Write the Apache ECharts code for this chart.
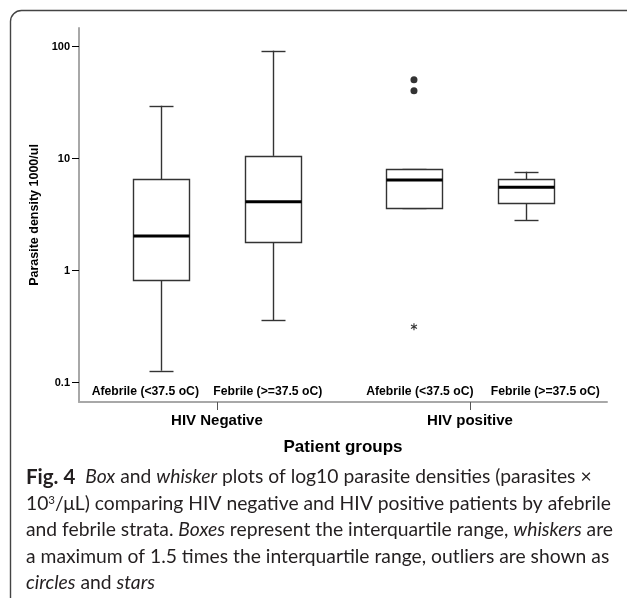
<!DOCTYPE html>
<html>
<head>
<meta charset="utf-8">
<title>Parasite density box plots</title>
<script src="https://cdn.jsdelivr.net/npm/echarts@6/dist/echarts.min.js"></script>
<style>
  html, body { margin: 0; padding: 0; background: #fff; }
  #chart { width: 627px; height: 598px; }
</style>
</head>
<body>
<div id="chart"></div>
<script>
// outer categories (patient groups) and inner categories (fever strata)
const groups = ["HIV Negative", "HIV positive"];
const strata = ["Afebrile (<37.5 oC)", "Febrile (>=37.5 oC)"];

// one entry per box: HIV-/afebrile, HIV-/febrile, HIV+/afebrile, HIV+/febrile
const boxGroup = [0, 0, 1, 1];
const boxStratum = [0, 1, 0, 1];
const whiskerLow = [0.128, 0.363, 3.63, 2.84];
const q1 = [0.814, 1.80, 3.63, 4.00];
const median = [2.04, 4.13, 6.45, 5.55];
const q3 = [6.55, 10.6, 8.04, 6.55];
const whiskerHigh = [29.7, 92.1, 8.04, 7.65];

// outliers, all in the HIV positive / afebrile box
const outlierGroup = 1;
const outlierStratum = 0;
const circleOutliers = [50.7, 40.5];
const starOutliers = [0.316];

// y axis ticks, parasite density 1000/ul on a log scale
const tickValues = [0.1, 1, 10, 100];
const tickLabels = ["0.1", "1", "10", "100"];

// layout (axis extents are in log10 units / group units)
const Y_MIN = -1.172, Y_MAX = 2.167;
const X_MIN = -0.545, X_MAX = 1.5415;
const STRATUM_OFFSET = 0.2213;
// SPSS sets the stratum labels a little off the box centres
const LABEL_OFFSET = [[-0.283, 0.201], [-0.198, 0.298]];
const BOX_WIDTH = 56, CAP_WIDTH = 24;
const FONT = "Liberation Sans";
const CAPTION_FONT = "Lato";
const CAPTION_SIZE = 19.3;

const lg = v => Math.log10(v);
const stratumX = (g, s) => g + (s === 0 ? -STRATUM_OFFSET : STRATUM_OFFSET);

const boxData = boxGroup.map((g, i) => [
  g, boxStratum[i], lg(whiskerLow[i]), lg(q1[i]), lg(median[i]), lg(q3[i]), lg(whiskerHigh[i])
]);

const labelPositions = [];
groups.forEach((g, gi) => strata.forEach((s, si) => labelPositions.push(gi + LABEL_OFFSET[gi][si])));
const stratumLabelFor = v => {
  let best = 0;
  labelPositions.forEach((p, i) => { if (Math.abs(p - v) < Math.abs(labelPositions[best] - v)) best = i; });
  return strata[best % strata.length];
};
const tickLabelFor = v => {
  let best = 0;
  tickValues.forEach((t, i) => { if (Math.abs(lg(t) - v) < Math.abs(lg(tickValues[best]) - v)) best = i; });
  return tickLabels[best];
};

const crisp = v => Math.round(v) + 0.5;

function renderBox(params, api) {
  const x = stratumX(api.value(0), api.value(1));
  const xc = api.coord([x, 0])[0];
  const yLo = api.coord([x, api.value(2)])[1];
  const yQ1 = api.coord([x, api.value(3)])[1];
  const yMed = api.coord([x, api.value(4)])[1];
  const yQ3 = api.coord([x, api.value(5)])[1];
  const yHi = api.coord([x, api.value(6)])[1];
  const cx = crisp(xc);
  const lineStyle = { stroke: "#333", lineWidth: 1.4, fill: null };
  return {
    type: "group",
    children: [
      { type: "line", shape: { x1: cx, y1: yHi, x2: cx, y2: yQ3 }, style: lineStyle },
      { type: "line", shape: { x1: cx, y1: yQ1, x2: cx, y2: yLo }, style: lineStyle },
      { type: "line", shape: { x1: cx - CAP_WIDTH / 2, y1: crisp(yHi), x2: cx + CAP_WIDTH / 2, y2: crisp(yHi) }, style: lineStyle },
      { type: "line", shape: { x1: cx - CAP_WIDTH / 2, y1: crisp(yLo), x2: cx + CAP_WIDTH / 2, y2: crisp(yLo) }, style: lineStyle },
      { type: "rect", shape: { x: cx - BOX_WIDTH / 2, y: crisp(yQ3), width: BOX_WIDTH, height: Math.round(yQ1 - yQ3) },
        style: { stroke: "#333", lineWidth: 1.4, fill: "#fff" } },
      { type: "line", shape: { x1: cx - BOX_WIDTH / 2, y1: yMed, x2: cx + BOX_WIDTH / 2, y2: yMed },
        style: { stroke: "#000", lineWidth: 3 } }
    ]
  };
}

const captionBase = { fontFamily: CAPTION_FONT, fontSize: CAPTION_SIZE, fill: "#231f20" };
const captionRich = {
  i: { fontFamily: CAPTION_FONT, fontSize: CAPTION_SIZE, fontStyle: "italic", fill: "#231f20" },
  b: { fontFamily: CAPTION_FONT, fontSize: 20.5, fontWeight: "bold", fill: "#231f20" },
  sup: { fontFamily: CAPTION_FONT, fontSize: 11.5, fill: "#231f20", verticalAlign: "top" }
};
const captionLines = [
  "{b|Fig. 4}  {i|Box} and {i|whisker} plots of log10 parasite densities (parasites ×",
  "10{sup|3}/μL) comparing HIV negative and HIV positive patients by afebrile",
  "and febrile strata. {i|Boxes} represent the interquartile range, {i|whiskers} are",
  "a maximum of 1.5 times the interquartile range, outliers are shown as",
  "{i|circles} and {i|stars}"
];
const captionY = [477, 504, 530, 556.5, 583];

const chart = echarts.init(document.getElementById("chart"), null, { renderer: "canvas" });
chart.setOption({
  animation: false,
  backgroundColor: "#fff",
  grid: { left: 79, right: 20, top: 28, bottom: 196, containLabel: false },
  xAxis: [
    {
      type: "value",
      position: "bottom",
      min: X_MIN,
      max: X_MAX,
      axisLine: { show: true, onZero: false, lineStyle: { color: "#a8a8a8", width: 2 } },
      axisTick: { show: true, customValues: [0, 1], length: 8, lineStyle: { color: "#555", width: 1 } },
      axisLabel: {
        customValues: [0, 1],
        formatter: v => groups[Math.round(v)],
        margin: 11,
        color: "#000",
        fontFamily: FONT,
        fontWeight: "bold",
        fontSize: 15
      },
      splitLine: { show: false },
      name: "Patient groups",
      nameLocation: "middle",
      nameGap: 37,
      nameTextStyle: { color: "#000", fontFamily: FONT, fontWeight: "bold", fontSize: 17 }
    },
    {
      type: "value",
      position: "bottom",
      min: X_MIN,
      max: X_MAX,
      axisLine: { show: false },
      axisTick: { show: false },
      axisLabel: {
        inside: true,
        customValues: labelPositions,
        formatter: stratumLabelFor,
        margin: 4,
        color: "#000",
        fontFamily: FONT,
        fontWeight: "bold",
        fontSize: 12.2
      },
      splitLine: { show: false }
    }
  ],
  yAxis: {
    type: "value",
    min: Y_MIN,
    max: Y_MAX,
    axisLine: { show: true, onZero: false, lineStyle: { color: "#a8a8a8", width: 2 } },
    axisTick: { show: true, customValues: tickValues.map(lg), length: 7, lineStyle: { color: "#000", width: 1 } },
    axisLabel: {
      customValues: tickValues.map(lg),
      formatter: tickLabelFor,
      margin: 9,
      color: "#000",
      fontFamily: FONT,
      fontWeight: "bold",
      fontSize: 11
    },
    splitLine: { show: false },
    name: "Parasite density 1000/ul",
    nameLocation: "middle",
    nameGap: 31,
    nameTextStyle: { color: "#000", fontFamily: FONT, fontWeight: "bold", fontSize: 12.5 }
  },
  series: [
    {
      type: "custom",
      name: "boxes",
      xAxisIndex: 0,
      renderItem: renderBox,
      encode: { x: 0, y: [2, 3, 4, 5, 6] },
      data: boxData,
      z: 3
    },
    {
      type: "scatter",
      name: "outliers",
      xAxisIndex: 0,
      symbol: "circle",
      symbolSize: 7,
      itemStyle: { color: "#000" },
      data: circleOutliers.map(v => [stratumX(outlierGroup, outlierStratum), lg(v)]),
      z: 4
    },
    {
      type: "scatter",
      name: "extremes",
      xAxisIndex: 0,
      symbol: "path://M0,-4L0,4M-3.46,-2L3.46,2M-3.46,2L3.46,-2",
      symbolSize: [6, 7],
      itemStyle: { color: "none", borderColor: "#000", borderWidth: 1.2 },
      data: starOutliers.map(v => [stratumX(outlierGroup, outlierStratum), lg(v)]),
      z: 4
    }
  ],
  graphic: [
    {
      type: "rect",
      shape: { x: 10.5, y: 10.5, width: 640, height: 620, r: 11 },
      style: { fill: null, stroke: "#444", lineWidth: 1.4 },
      silent: true
    }
  ].concat(captionLines.map((line, i) => ({
    type: "text",
    x: 26,
    y: captionY[i],
    silent: true,
    style: Object.assign({ text: line, verticalAlign: "middle", rich: captionRich }, captionBase)
  })))
});
</script>
</body>
</html>
